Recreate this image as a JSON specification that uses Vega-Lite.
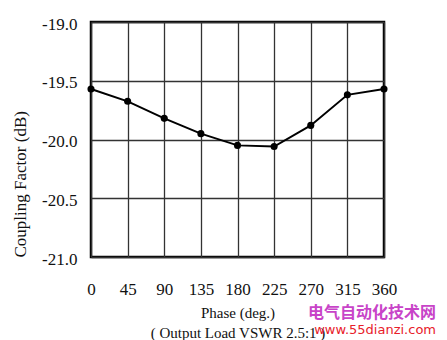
{
  "$schema": "https://vega.github.io/schema/vega-lite/v6.json",
  "width": 293,
  "height": 235,
  "autosize": {"type": "none"},
  "padding": {"left": 91, "top": 22, "right": 63, "bottom": 83},
  "background": "white",
  "config": {
    "view": {"stroke": "black", "strokeWidth": 2.5},
    "font": "Liberation Serif"
  },
  "title": {
    "text": "电气自动化技术网",
    "subtitle": "www.55dianzi.com",
    "orient": "bottom",
    "anchor": "end",
    "frame": "group",
    "font": "Noto Sans CJK SC",
    "fontSize": 16,
    "fontWeight": "bold",
    "color": "#c844c8",
    "subtitleFont": "DejaVu Sans",
    "subtitleFontSize": 13,
    "subtitleColor": "#e8202a",
    "subtitlePadding": 3,
    "offset": 0,
    "dx": 52,
    "dy": -35
  },
  "data": {
    "values": [
      {"phase": 0, "coupling": -19.57},
      {"phase": 45, "coupling": -19.675},
      {"phase": 90, "coupling": -19.82},
      {"phase": 135, "coupling": -19.95},
      {"phase": 180, "coupling": -20.05},
      {"phase": 225, "coupling": -20.06},
      {"phase": 270, "coupling": -19.88},
      {"phase": 315, "coupling": -19.62},
      {"phase": 360, "coupling": -19.57}
    ]
  },
  "mark": {"type": "line", "color": "black", "strokeWidth": 2, "point": {"filled": true, "color": "black", "size": 50, "opacity": 1}},
  "encoding": {
    "x": {
      "field": "phase",
      "type": "quantitative",
      "scale": {"domain": [0, 360], "nice": false},
      "axis": {
        "values": [0, 45, 90, 135, 180, 225, 270, 315, 360],
        "title": ["Phase (deg.)", "( Output Load  VSWR 2.5:1 )"],
        "titleFont": "Liberation Serif",
        "titleFontSize": 15,
        "titleFontWeight": "normal",
        "titleColor": "#111",
        "titleLineHeight": 20,
        "titlePadding": 8,
        "labelFont": "Liberation Serif",
        "labelFontSize": 17,
        "labelColor": "#111",
        "labelPadding": 24,
        "ticks": false,
        "domain": false,
        "grid": true,
        "gridColor": "#333",
        "gridWidth": 1.3,
        "labelFlush": false
      }
    },
    "y": {
      "field": "coupling",
      "type": "quantitative",
      "scale": {"domain": [-21, -19], "nice": false, "zero": false},
      "axis": {
        "values": [-21, -20.5, -20, -19.5, -19],
        "format": ".1f",
        "labelExpr": "replace(datum.label, '−', '-')",
        "title": "Coupling Factor     (dB)",
        "titleFont": "Liberation Serif",
        "titleFontSize": 17,
        "titleFontWeight": "normal",
        "titleColor": "#111",
        "titleAnchor": "start",
        "titlePadding": 12,
        "labelFont": "Liberation Serif",
        "labelFontSize": 17,
        "labelColor": "#111",
        "labelPadding": 14,
        "labelBaseline": "top",
        "labelOffset": -6,
        "ticks": false,
        "domain": false,
        "grid": true,
        "gridColor": "#333",
        "gridWidth": 1.3,
        "labelFlush": false
      }
    }
  }
}
